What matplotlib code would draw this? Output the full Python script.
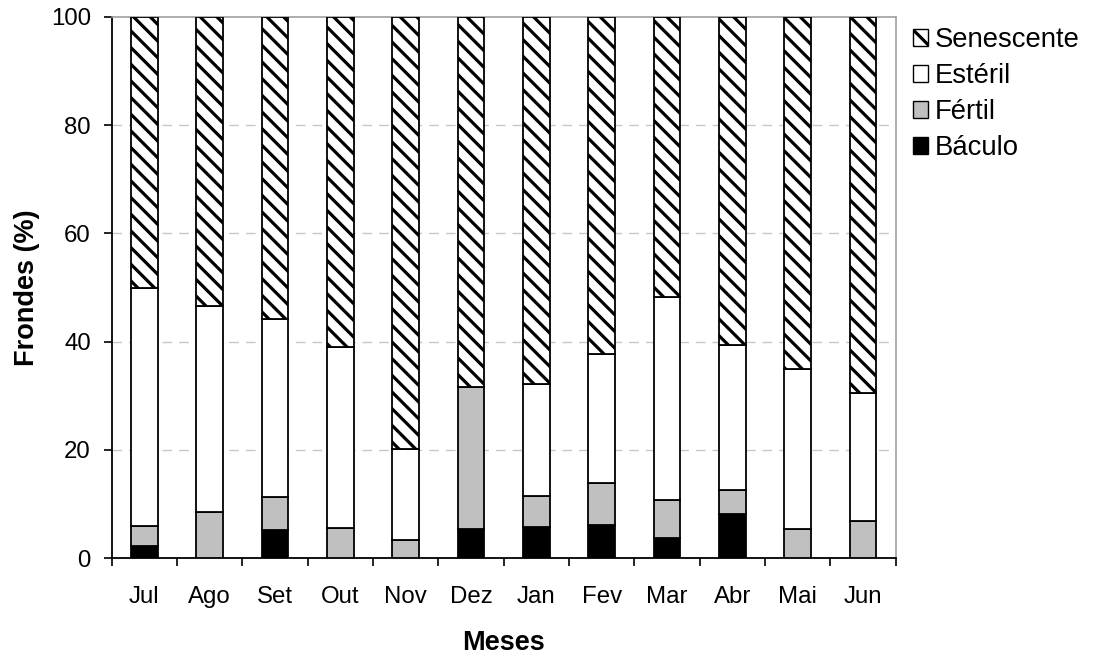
import matplotlib
matplotlib.use("Agg")
import matplotlib.pyplot as plt
import numpy as np
from matplotlib.patches import Patch

plt.rcParams['font.family'] = ['Liberation Sans', 'DejaVu Sans']
plt.rcParams['hatch.linewidth'] = 2.3

meses = ["Jul", "Ago", "Set", "Out", "Nov", "Dez", "Jan", "Fev", "Mar", "Abr", "Mai", "Jun"]
baculo = [2.3, 0.0, 5.2, 0.0, 0.0, 5.4, 5.8, 6.1, 3.7, 8.2, 0.0, 0.0]
fertil = [3.6, 8.5, 6.2, 5.6, 3.3, 26.2, 5.7, 7.8, 7.1, 4.5, 5.5, 6.9]
esteril = [44.1, 38.1, 32.7, 33.5, 16.9, 0.0, 20.6, 23.8, 37.4, 26.6, 29.5, 23.6]

baculo = np.array(baculo)
fertil = np.array(fertil)
esteril = np.array(esteril)
senescente = 100 - baculo - fertil - esteril

fig = plt.figure(figsize=(10.93, 6.57), dpi=100)
ax = fig.add_axes([0.1022, 0.1502, 0.7173, 0.8244])

x = np.arange(len(meses))
w = 0.41
kw = dict(width=w, edgecolor='black', linewidth=1.3, zorder=3)
ax.bar(x, baculo, color='black', **kw)
ax.bar(x, fertil, bottom=baculo, color='#c0c0c0', **kw)
ax.bar(x, esteril, bottom=baculo + fertil, color='white', **kw)
ax.bar(x, senescente, bottom=baculo + fertil + esteril, color='white', hatch='\\\\', **kw)

ax.set_xlim(-0.5, len(meses) - 0.5)
ax.set_ylim(0, 100)
ax.set_yticks([0, 20, 40, 60, 80, 100])
ax.set_xticks(x)
ax.set_xticklabels(meses)
ax.set_xticks(np.arange(-0.5, len(meses)), minor=True)
ax.tick_params(axis='x', which='major', length=0, pad=20, labelsize=17.3)
ax.tick_params(axis='x', which='minor', length=6, width=1.2, direction='out')
ax.tick_params(axis='y', length=6, width=1.2, direction='out', labelsize=17.3, pad=9)

for v in [20, 40, 60, 80]:
    ax.axhline(v, color='#c8c8c8', linewidth=1.0, linestyle=(0, (7, 5)), zorder=1)

for s in ['left', 'bottom']:
    ax.spines[s].set_color('black')
    ax.spines[s].set_linewidth(1.3)
for s in ['top', 'right']:
    ax.spines[s].set_color('#a0a0a0')
    ax.spines[s].set_linewidth(1.2)

ax.set_ylabel("Frondes (%)", fontsize=19.5, fontweight='bold', labelpad=8)
ax.set_xlabel("Meses", fontsize=19.5, fontweight='bold', labelpad=16)

handles = [
    Patch(facecolor='white', edgecolor='black', hatch='\\\\', linewidth=1.0, label='Senescente'),
    Patch(facecolor='white', edgecolor='black', linewidth=1.0, label='Estéril'),
    Patch(facecolor='#c0c0c0', edgecolor='black', linewidth=1.0, label='Fértil'),
    Patch(facecolor='black', edgecolor='black', linewidth=1.0, label='Báculo'),
]
fig.legend(handles=handles, loc='upper left', bbox_to_anchor=(0.825, 0.975),
           frameon=False, fontsize=19.8, handlelength=0.55, handleheight=0.55,
           handletextpad=0.25, labelspacing=0.36, borderaxespad=0)

fig.savefig("out.png", dpi=100)
